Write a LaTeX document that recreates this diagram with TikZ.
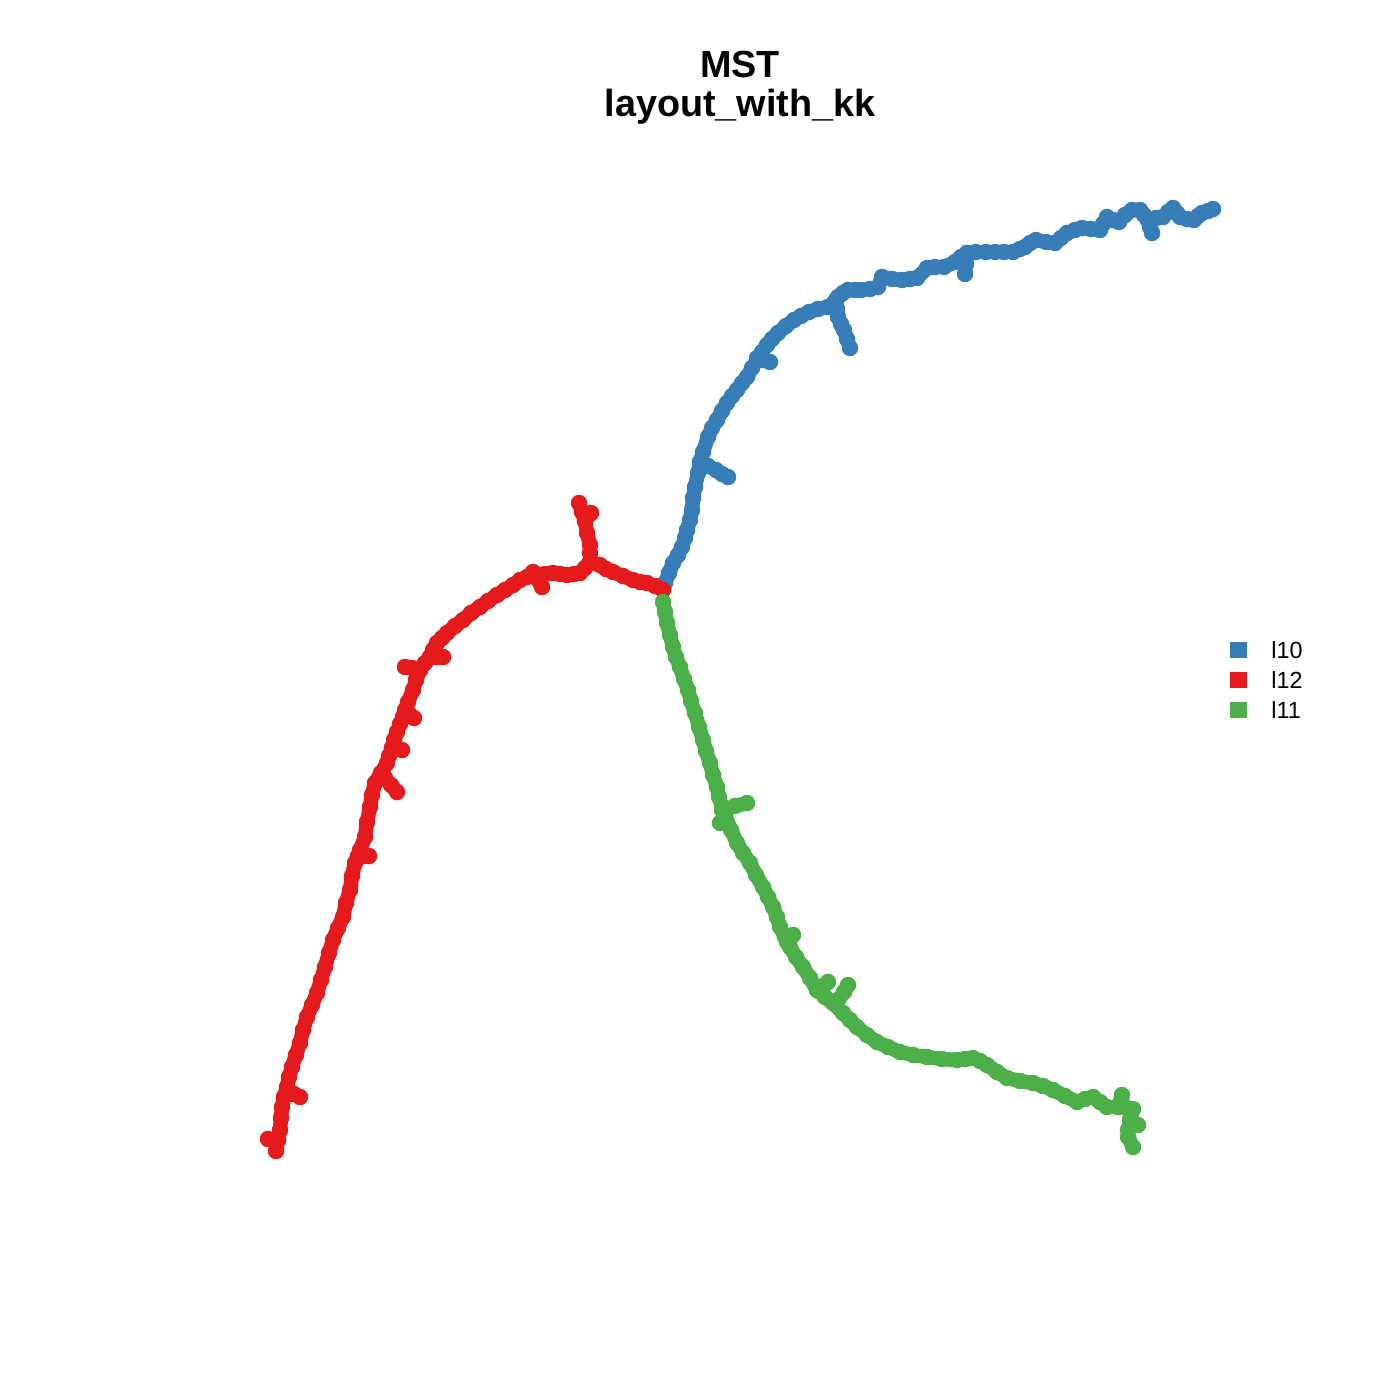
\documentclass[tikz,border=0pt]{standalone}
\usepackage{fontspec}
\setmainfont{Liberation Sans}
\definecolor{sblue}{HTML}{377EB8}
\definecolor{sred}{HTML}{E41A1C}
\definecolor{sgreen}{HTML}{4DAF4A}
\newcommand\mstbranch[2]{%
  \foreach \x/\y [count=\i] in {#2}{%
    \ifnum\i>1 \draw[#1,line width=0.29cm,line cap=round] (\mstpx,\mstpy) -- (\x,\y);\fi
    \xdef\mstpx{\x}\xdef\mstpy{\y}%
    \fill[#1] (\x,\y) circle[radius=0.165cm];
  }%
}
\begin{document}
\begin{tikzpicture}[x=0.02cm,y=-0.02cm,
  titletext/.style={font=\bfseries\fontsize{21.5}{24}\selectfont,anchor=base,inner sep=0pt},
  legtext/.style={font=\fontsize{13.3}{15}\selectfont,anchor=base west,inner sep=0pt},
  legbox/.style={minimum width=0.34cm,minimum height=0.32cm,inner sep=0pt}]
\useasboundingbox (0,0) rectangle (1400,1400);
\fill[white] (0,0) rectangle (1400,1400);
% title
\node[titletext] (t1) at (740,77) {MST};
\node[titletext] (t2) at (740,116) {layout\_with\_kk};
% blue branch (l10)
\mstbranch{sblue}{665/583, 669/573, 673/563, 678/555, 682/547, 685/538, 687/530, 690/520, 692/510, 693/498, 695/487, 698/473, 700/462, 703/452, 708/437, 712/428, 717/420, 722/411, 727/403, 732/396, 737/390, 742/383, 747/377, 752/368, 757/360, 762/352, 767/345, 772/339, 778/333, 786/326, 794/320, 801/316, 809/312, 818/309, 828/307, 834/303, 838/297, 843/293, 848/290, 855/290, 861/290, 870/289, 878/287, 882/277, 892/279, 902/280, 910/279, 917/278, 927/268, 935/267, 944/267, 955/262, 961/257, 967/253, 976/252, 986/252, 995/252, 1004/252, 1013/252, 1020/249, 1025/247, 1030/243, 1036/240, 1046/242, 1055/243, 1061/238, 1067/233, 1075/230, 1082/228, 1091/229, 1100/230, 1103/224, 1107/217, 1113/220, 1119/222, 1125/215, 1132/210, 1140/210, 1144/215, 1148/220, 1156/218, 1163/217, 1168/212, 1173/208, 1177/213, 1180/217, 1187/219, 1194/220, 1198/216, 1202/213, 1208/211, 1213/209}
\mstbranch{sblue}{700/462, 708/466, 716/470, 722/474, 728/477}
\mstbranch{sblue}{757/358, 764/360, 770/362}
\mstbranch{sblue}{836/300, 837/309, 838/317, 841/324, 844/330, 847/339, 850/348}
\mstbranch{sblue}{967/253, 966/264, 965/274}
\mstbranch{sblue}{1148/220, 1150/227, 1152/233}
% red branch (l12)
\mstbranch{sred}{663/590, 655/586, 647/583, 640/582, 633/580, 623/576, 613/572, 606/569, 600/565, 590/562, 585/568, 580/573, 574/574, 567/575, 560/574, 553/573, 545/574, 537/575, 533/572, 527/577, 520/580, 513/585, 505/590, 497/595, 488/601, 480/607, 471/613, 463/620, 455/626, 447/633, 442/638, 437/643, 433/650, 430/657, 425/663, 420/670, 416/680, 413/690, 408/702, 405/710, 403/717, 400/724, 397/732, 394/740, 392/748, 389/756, 387/763, 381/773, 375/783, 372/795, 370/807, 367/822, 365/837, 360/850, 355/863, 352/876, 350/890, 346/903, 343/917, 338/928, 333/940, 329/953, 325/967, 321/980, 317/993, 312/1005, 307/1017, 303/1030, 300/1043, 296/1055, 292/1067, 289/1077, 287/1087, 284/1097, 282/1107, 281/1118, 280/1130, 278/1140, 276/1151}
\mstbranch{sred}{590/562, 590/553, 590/545, 587/533, 585/521, 582/512, 579/503}
\mstbranch{sred}{585/521, 591/513}
\mstbranch{sred}{535/576, 542/587}
\mstbranch{sred}{430/657, 437/657, 443/657}
\mstbranch{sred}{420/670, 412/668, 405/667}
\mstbranch{sred}{405/712, 410/715, 414/718}
\mstbranch{sred}{392/748, 397/749, 402/750}
\mstbranch{sred}{385/778, 391/785, 397/792}
\mstbranch{sred}{358/856, 363/856, 369/856}
\mstbranch{sred}{288/1090, 294/1094, 300/1097}
\mstbranch{sred}{278/1140, 268/1139}
% green branch (l11)
\mstbranch{sgreen}{663/602, 665/612, 667/623, 670/635, 673/647, 676/657, 680/667, 684/679, 688/690, 691/701, 695/713, 699/727, 703/740, 706/751, 710/763, 713/775, 717/787, 719/797, 722/807, 725/815, 731/830, 737/843, 743/853, 750/863, 756/875, 763/887, 768/897, 773/907, 777/917, 780/927, 785/937, 790/947, 796/957, 803/967, 810/978, 817/990, 825/997, 833/1003, 843/1013, 850/1020, 857/1027, 867/1035, 877/1042, 888/1047, 900/1052, 913/1055, 927/1057, 942/1059, 957/1060, 965/1059, 973/1058, 980/1061, 987/1065, 997/1072, 1007/1078, 1020/1081, 1033/1083, 1043/1086, 1053/1090, 1065/1096, 1077/1102, 1085/1099, 1093/1097, 1100/1102, 1107/1107, 1118/1107, 1125/1107, 1133/1109, 1130/1120, 1128/1130, 1128/1137, 1133/1147}
\mstbranch{sgreen}{1118/1107, 1122/1095}
\mstbranch{sgreen}{1130/1120, 1138/1125}
\mstbranch{sgreen}{722/810, 735/806, 747/803}
\mstbranch{sgreen}{724/818, 720/823}
\mstbranch{sgreen}{787/942, 793/935}
\mstbranch{sgreen}{817/990, 823/986, 828/982}
\mstbranch{sgreen}{838/1000, 844/992, 848/985}
% legend
\node[legbox,fill=sblue] (k1) at (1238,650) {};
\node[legbox,fill=sred] (k2) at (1238,680) {};
\node[legbox,fill=sgreen] (k3) at (1238,710) {};
\node[legtext] (l1) at (1271,658) {l10};
\node[legtext] (l2) at (1271,688) {l12};
\node[legtext] (l3) at (1271,718) {l11};
\end{tikzpicture}
\end{document}
